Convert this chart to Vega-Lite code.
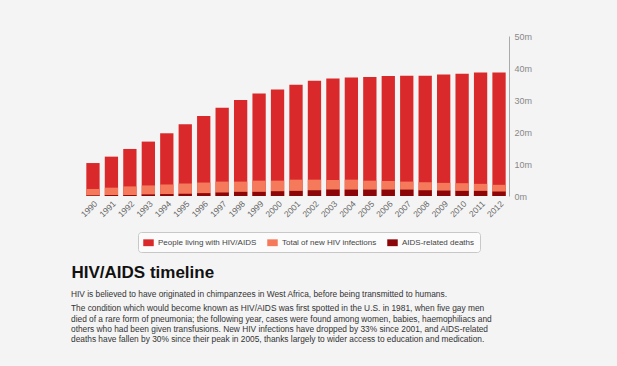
{
  "$schema": "https://vega.github.io/schema/vega-lite/v6.json",
  "width": 426,
  "height": 160,
  "autosize": {"type": "none"},
  "padding": {"left": 83, "top": 36, "right": 108, "bottom": 170},
  "background": "#f4f4f4",
  "data": {
    "values": [
      {"year": "1990", "living": 10.3, "newInf": 2.2, "deaths": 0.2},
      {"year": "1991", "living": 12.3, "newInf": 2.6, "deaths": 0.3},
      {"year": "1992", "living": 14.7, "newInf": 3.0, "deaths": 0.3},
      {"year": "1993", "living": 17.0, "newInf": 3.3, "deaths": 0.5},
      {"year": "1994", "living": 19.6, "newInf": 3.6, "deaths": 0.6},
      {"year": "1995", "living": 22.4, "newInf": 3.9, "deaths": 0.7},
      {"year": "1996", "living": 25.0, "newInf": 4.2, "deaths": 0.9},
      {"year": "1997", "living": 27.6, "newInf": 4.5, "deaths": 1.1},
      {"year": "1998", "living": 30.0, "newInf": 4.5, "deaths": 1.3},
      {"year": "1999", "living": 32.0, "newInf": 4.8, "deaths": 1.3},
      {"year": "2000", "living": 33.3, "newInf": 4.8, "deaths": 1.5},
      {"year": "2001", "living": 34.8, "newInf": 5.1, "deaths": 1.6},
      {"year": "2002", "living": 36.0, "newInf": 5.1, "deaths": 1.8},
      {"year": "2003", "living": 36.7, "newInf": 5.0, "deaths": 2.0},
      {"year": "2004", "living": 37.0, "newInf": 5.1, "deaths": 2.0},
      {"year": "2005", "living": 37.2, "newInf": 4.8, "deaths": 2.0},
      {"year": "2006", "living": 37.5, "newInf": 4.7, "deaths": 2.0},
      {"year": "2007", "living": 37.6, "newInf": 4.5, "deaths": 2.0},
      {"year": "2008", "living": 37.6, "newInf": 4.3, "deaths": 1.8},
      {"year": "2009", "living": 38.0, "newInf": 4.1, "deaths": 1.7},
      {"year": "2010", "living": 38.2, "newInf": 4.0, "deaths": 1.6},
      {"year": "2011", "living": 38.6, "newInf": 3.8, "deaths": 1.6},
      {"year": "2012", "living": 38.6, "newInf": 3.5, "deaths": 1.4}
    ]
  },
  "title": {
    "text": "HIV is believed to have originated in chimpanzees in West Africa, before being transmitted to humans.",
    "subtitle": [
      "The condition which would become known as HIV/AIDS was first spotted in the U.S. in 1981, when five gay men",
      "died of a rare form of pneumonia; the following year, cases were found among women, babies, haemophiliacs and",
      "others who had been given transfusions. New HIV infections have dropped by 33% since 2001, and AIDS-related",
      "deaths have fallen by 30% since their peak in 2005, thanks largely to wider access to education and medication."
    ],
    "orient": "bottom",
    "anchor": "start",
    "frame": "group",
    "dx": -12,
    "offset": 10,
    "font": "Liberation Sans",
    "fontSize": 8.35,
    "fontWeight": "normal",
    "color": "#333",
    "subtitleFont": "Liberation Sans",
    "subtitleFontSize": 8.35,
    "subtitleColor": "#333",
    "subtitleLineHeight": 10.3,
    "subtitlePadding": 6
  },
  "encoding": {
    "x": {
      "field": "year",
      "type": "ordinal",
      "scale": {"paddingInner": 0.28, "paddingOuter": 0.18},
      "axis": {
        "title": "HIV/AIDS timeline",
        "titleFont": "Liberation Sans",
        "titleFontSize": 17,
        "titleFontWeight": "bold",
        "titleColor": "#111",
        "titleAnchor": "start",
        "titleAlign": "left",
        "titleBaseline": "alphabetic",
        "titleX": -12,
        "titleY": 81,
        "labelAngle": -45,
        "labelFont": "Liberation Sans",
        "labelFontSize": 8.5,
        "labelColor": "#666",
        "domain": false,
        "ticks": false,
        "labelPadding": 3
      }
    }
  },
  "layer": [
    {
      "mark": {"type": "bar"},
      "encoding": {
        "y": {
          "field": "living",
          "type": "quantitative",
          "scale": {"domain": [0, 50]},
          "axis": {"orient": "right", "title": null, "values": [0, 10, 20, 30, 40, 50], "labelExpr": "datum.value + 'm'", "labelOverlap": false}
        },
        "color": {"datum": "People living with HIV/AIDS"}
      }
    },
    {
      "mark": {"type": "bar"},
      "encoding": {
        "y": {
          "field": "newInf",
          "type": "quantitative",
          "scale": {"domain": [0, 50]},
          "axis": {"orient": "right", "title": null, "values": [0, 10, 20, 30, 40, 50], "labelExpr": "datum.value + 'm'", "labelOverlap": false}
        },
        "color": {"datum": "Total of new HIV infections"}
      }
    },
    {
      "mark": {"type": "bar"},
      "encoding": {
        "y": {
          "field": "deaths",
          "type": "quantitative",
          "scale": {"domain": [0, 50]},
          "axis": {"orient": "right", "title": null, "values": [0, 10, 20, 30, 40, 50], "labelExpr": "datum.value + 'm'", "labelOverlap": false}
        },
        "color": {
          "datum": "AIDS-related deaths",
          "scale": {
            "domain": ["People living with HIV/AIDS", "Total of new HIV infections", "AIDS-related deaths"],
            "range": ["#d9292b", "#f57a5c", "#8a0608"]
          },
          "legend": {
            "title": null,
            "orient": "none",
            "legendX": 55,
            "legendY": 196,
            "direction": "horizontal",
            "symbolType": "M-1,-0.65H1V0.65H-1Z",
            "symbolSize": 110,
            "symbolStrokeWidth": 0,
            "labelFont": "Liberation Sans",
            "labelFontSize": 8,
            "labelColor": "#444",
            "columnPadding": 10,
            "labelOffset": 4,
            "padding": 5,
            "strokeColor": "#c8c8c8",
            "fillColor": "#fbfbfb",
            "cornerRadius": 3
          }
        }
      }
    }
  ],
  "config": {
    "view": {"stroke": null},
    "axisY": {
      "grid": false,
      "ticks": false,
      "domainColor": "#aaa",
      "labelColor": "#888",
      "labelFont": "Liberation Sans",
      "labelFontSize": 9,
      "labelPadding": 5,
      "labelBound": false
    }
  }
}
